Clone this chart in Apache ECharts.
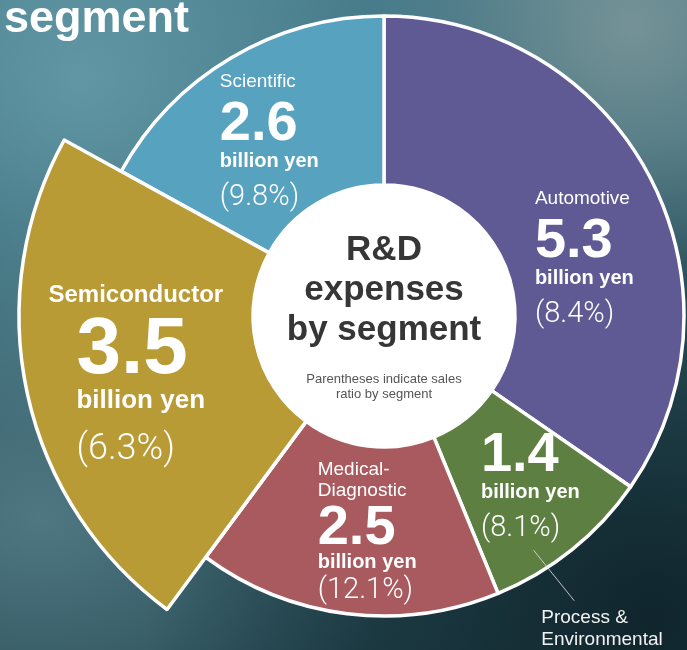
<!DOCTYPE html>
<html>
<head>
<meta charset="utf-8">
<script src="https://cdn.jsdelivr.net/npm/echarts@6/dist/echarts.min.js"></script>
<style>
html,body{margin:0;padding:0;width:687px;height:650px;overflow:hidden;}
#c{width:687px;height:650px;
background:
 radial-gradient(ellipse at 12% 12%, rgba(110,165,178,0.75) 0%, rgba(110,165,178,0) 45%),
 radial-gradient(ellipse at 92% 4%, rgba(140,160,160,0.7) 0%, rgba(140,160,160,0) 30%),
 radial-gradient(ellipse at 95% 95%, rgba(15,35,42,0.95) 0%, rgba(15,35,42,0) 55%),
 radial-gradient(ellipse at 6% 80%, rgba(95,135,145,0.7) 0%, rgba(95,135,145,0) 40%),
 linear-gradient(180deg, #3f7383 0%, #2f5c68 55%, #244852 100%);}
</style>
</head>
<body>
<div id="c"></div>
<script>
// ---- data ----
const segments = ['Automotive', 'Process & Environmental', 'Medical-Diagnostic', 'Semiconductor', 'Scientific'];
const values = [5.3, 1.4, 2.5, 3.5, 2.6];            // billion yen
const ratios = ['8.4%', '8.1%', '12.1%', '6.3%', '9.8%'];
const insideNames = ['Automotive', '', 'Medical-\nDiagnostic', 'Semiconductor', 'Scientific'];
const unitText = 'billion yen';
const centerLines = ['R&D', 'expenses', 'by segment'];
const noteLines = ['Parentheses indicate sales', 'ratio by segment'];
const titleText = 'segment';

// ---- style ----
const colors = ['#5f5a93', '#5e7f42', '#a95a5f', '#b89b34', '#57a2bf'];
const CX = 384, CY = 316, R_IN = 131, R_OUT = 300, R_SEMI = 365;
const labelShift = [[-22, 62], [-11, -20], [14, -29], [-3, 13], [13, 45]];
const FONT = '"Liberation Sans", Arial, Helvetica, sans-serif';
const LIGHT = 'Roboto, "Liberation Sans", sans-serif';

function insideLabel(i) {
  const v = values[i].toFixed(1);
  const p = '(' + ratios[i] + ')';
  if (i === 3) {
    return '{sname|' + insideNames[i] + '}\n{snum|' + v + '}\n{sunit|' + unitText + '}\n{spct|' + p + '}';
  }
  if (i === 2) {
    const nm = insideNames[i].split('\n').map(s => '{mname|' + s + '}').join('\n');
    return nm + '\n{num|' + v + '}\n{munit|' + unitText + '}\n{mpct|' + p + '}';
  }
  let s = '';
  if (insideNames[i]) s += '{name|' + insideNames[i] + '}\n';
  return s + '{num|' + v + '}\n{unit|' + unitText + '}\n{pct|' + p + '}';
}

const rich = {
  name:  {fontFamily: FONT, fontSize: 19, color: '#fff', lineHeight: 32, align: 'left'},
  num:   {fontFamily: FONT, fontSize: 56, fontWeight: 'bold', color: '#fff', lineHeight: 54, align: 'left'},
  unit:  {fontFamily: FONT, fontSize: 20, fontWeight: 'bold', color: '#fff', lineHeight: 20, align: 'left'},
  pct:   {fontFamily: LIGHT, fontSize: 29, fontWeight: 300, color: '#fff', lineHeight: 52, align: 'left'},
  mname: {fontFamily: FONT, fontSize: 19, color: '#fff', lineHeight: 21, align: 'left'},
  munit: {fontFamily: FONT, fontSize: 20, fontWeight: 'bold', color: '#fff', lineHeight: 14, align: 'left'},
  mpct:  {fontFamily: LIGHT, fontSize: 29, fontWeight: 300, color: '#fff', lineHeight: 44, align: 'left'},
  sname: {fontFamily: FONT, fontSize: 24, fontWeight: 'bold', color: '#fff', lineHeight: 35, align: 'left'},
  snum:  {fontFamily: FONT, fontSize: 80, fontWeight: 'bold', color: '#fff', lineHeight: 76, align: 'left', padding: [0, 0, 0, 28]},
  sunit: {fontFamily: FONT, fontSize: 26, fontWeight: 'bold', color: '#fff', lineHeight: 24, align: 'left', padding: [0, 0, 0, 28]},
  spct:  {fontFamily: LIGHT, fontSize: 36, fontWeight: 300, color: '#fff', lineHeight: 75, align: 'left', padding: [0, 0, 0, 28]}
};

const border = {borderColor: '#ffffff', borderWidth: 3.5};

const baseData = segments.map((n, i) => ({
  name: n, value: values[i],
  itemStyle: Object.assign({color: colors[i]}, border)
}));

const semiData = segments.map((n, i) => ({
  name: n, value: values[i],
  itemStyle: i === 3 ? Object.assign({color: colors[i]}, border) : {color: 'rgba(0,0,0,0)', borderWidth: 0},
  label: {show: true, formatter: insideLabel(i)}
}));

const calloutData = segments.map((n, i) => ({
  name: n, value: values[i],
  itemStyle: {color: 'rgba(0,0,0,0)', borderWidth: 0},
  label: {show: i === 1, formatter: 'Process &\nEnvironmental'},
  labelLine: {show: i === 1}
}));

const centerText = centerLines.map(s => '{big|' + s + '}').join('\n') + '\n{gap| }\n' +
  noteLines.map(s => '{small|' + s + '}').join('\n');

const chart = echarts.init(document.getElementById('c'), null, {renderer: 'canvas'});
chart.setOption({
  backgroundColor: 'transparent',
  animation: false,
  title: {
    text: titleText, left: 4, top: -2, padding: 0,
    textStyle: {fontFamily: FONT, fontSize: 45, fontWeight: 'bold', color: '#fff', lineHeight: 44}
  },
  series: [
    {
      type: 'pie', center: [CX, CY], radius: [R_IN, R_OUT], startAngle: 90, clockwise: true,
      silent: true, label: {show: false}, labelLine: {show: false}, data: baseData
    },
    {
      type: 'pie', center: [CX, CY], radius: [R_IN, R_SEMI], startAngle: 90, clockwise: true,
      silent: true, minShowLabelAngle: 0,
      label: {show: true, position: 'inside', color: '#fff', rich: rich},
      labelLine: {show: false},
      labelLayout: function (p) {
        const s = labelShift[p.dataIndex];
        return {dx: s[0], dy: s[1]};
      },
      data: semiData
    },
    {
      type: 'pie', center: [CX, CY], radius: [R_IN, 280], startAngle: 90, clockwise: true,
      silent: true, avoidLabelOverlap: false, z: 4,
      label: {position: 'outside', color: '#f2f2f2', fontFamily: FONT, fontSize: 19, lineHeight: 22},
      labelLine: {length: 65, length2: 0, lineStyle: {color: 'rgba(225,225,225,0.85)', width: 1}},
      labelLayout: function (p) {
        if (p.dataIndex !== 1 || !p.labelLinePoints) return {};
        const pts = p.labelLinePoints.map(q => [q[0] - 26, q[1] + 16]);
        const end = pts[pts.length - 1];
        return {
          labelLinePoints: pts,
          x: end[0] - 33, y: end[1] + 6, align: 'left', verticalAlign: 'top'
        };
      },
      data: calloutData
    },
    {
      type: 'pie', center: [CX, CY], radius: [0, R_IN], silent: true,
      label: {
        show: true, position: 'center', formatter: centerText,
        rich: {
          big: {fontFamily: FONT, fontSize: 35, fontWeight: 'bold', color: '#363636', lineHeight: 40},
          gap: {fontSize: 10, lineHeight: 21},
          small: {fontFamily: FONT, fontSize: 13, color: '#555555', lineHeight: 15}
        }
      },
      labelLine: {show: false},
      itemStyle: {color: '#ffffff'},
      data: [{name: 'center', value: 1}]
    }
  ]
});
</script>
</body>
</html>
